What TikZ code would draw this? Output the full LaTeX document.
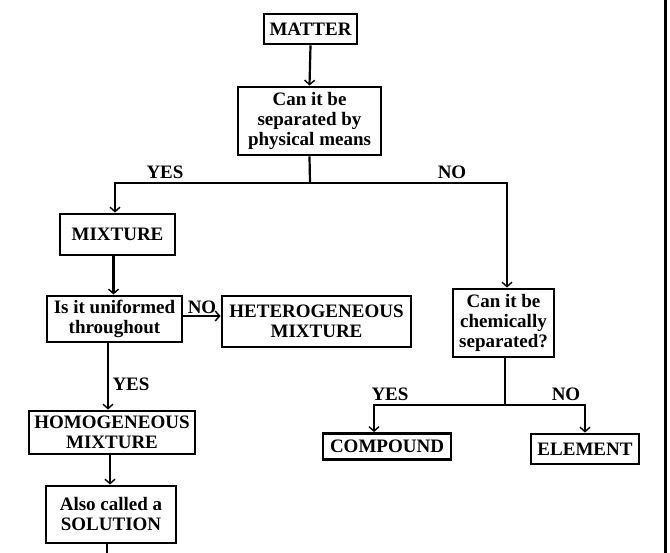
\documentclass[tikz,border=0pt]{standalone}
\usepackage{fontspec}
\setmainfont{Liberation Serif}
\usetikzlibrary{arrows.meta}
\begin{document}
\begin{tikzpicture}[x=1pt,y=-1pt,
  every node/.style={font=\fontsize{19}{20}\selectfont\bfseries},
  box/.style={draw, line width=2.8pt, inner sep=0pt, align=center},
  lbl/.style={inner sep=0pt},
  conn/.style={line width=2.2pt},
  arr/.style={conn, -{Straight Barb[length=4.5pt,width=10pt,line width=1.4pt]}}]
\useasboundingbox[fill=white] (0,0) rectangle (670,553);
\node[box, minimum width=93pt, minimum height=30pt] (matter) at (310.5,29) {MATTER};
\node[box, minimum width=143pt, minimum height=68pt] (q1) at (309.5,121) {Can it be\\separated by\\physical means};
\node[box, minimum width=115pt, minimum height=41pt] (mixture) at (117.5,234.5) {MIXTURE};
\node[box, minimum width=135pt, minimum height=46pt] (q2) at (114.5,319) {Is it uniformed\\throughout};
\node[box, minimum width=189pt, minimum height=51pt] (hetero) at (316.5,321.5) {HETEROGENEOUS\\MIXTURE};
\node[box, minimum width=166pt, minimum height=43pt] (homo) at (112,432.5) {HOMOGENEOUS\\MIXTURE};
\node[box, minimum width=130pt, minimum height=57pt] (sol) at (111,514.5) {Also called a\\SOLUTION};
\node[box, minimum width=101pt, minimum height=68pt] (q3) at (503.5,323) {Can it be\\chemically\\separated?};
\node[box, minimum width=128pt, minimum height=26pt] (compound) at (387,446.5) {COMPOUND};
\node[box, minimum width=108pt, minimum height=30pt] (element) at (585,449) {ELEMENT};
% labels
\node[lbl] (yes1) at (165,172) {YES};
\node[lbl] (no1) at (452,172) {NO};
\node[lbl] (no2) at (202,307) {NO};
\node[lbl] (yes2) at (131,384) {YES};
\node[lbl] (yes3) at (390,394) {YES};
\node[lbl] (no3) at (566,394) {NO};
% junction coordinates
\coordinate (jL) at (115,183);
\coordinate (jR) at (507,183);
\coordinate (j1) at (310,183);
\coordinate (k1) at (505,405);
\coordinate (kL) at (374,405);
\coordinate (kR) at (585,405);
\coordinate (bot) at (107,556);
% connectors
\draw[arr] (matter.south) -- (q1.north);
\draw[conn] (q1.south) -- (j1);
\draw[conn] ([xshift=-1pt]jL) -- ([xshift=1pt]jR);
\draw[arr] (jL) -- (jL |- mixture.north);
\draw[arr] (jR) -- (jR |- q3.north);
\draw[arr] ([xshift=-4pt]mixture.south) -- ([xshift=-4pt]mixture.south |- q2.north);
\draw[arr] ([yshift=3pt]q2.east) -- ([yshift=3pt]q2.east -| hetero.west);
\draw[arr] ([xshift=-6.5pt]q2.south) -- ([xshift=-6.5pt]q2.south |- homo.north);
\draw[arr] ([xshift=-2pt]homo.south) -- ([xshift=-2pt]homo.south |- sol.north);
\draw[conn] ([xshift=-4pt]sol.south) -- ([xshift=-4pt]sol.south |- bot);
\draw[conn] ([xshift=1.5pt]q3.south) -- (k1);
\draw[conn] ([xshift=-1pt]kL) -- ([xshift=1pt]kR);
\draw[arr] (kL) -- (kL |- compound.north);
\draw[arr] (kR) -- (kR |- element.north);
% right edge rule
\draw[line width=3pt] (665,0) -- (665,553);
\end{tikzpicture}
\end{document}
